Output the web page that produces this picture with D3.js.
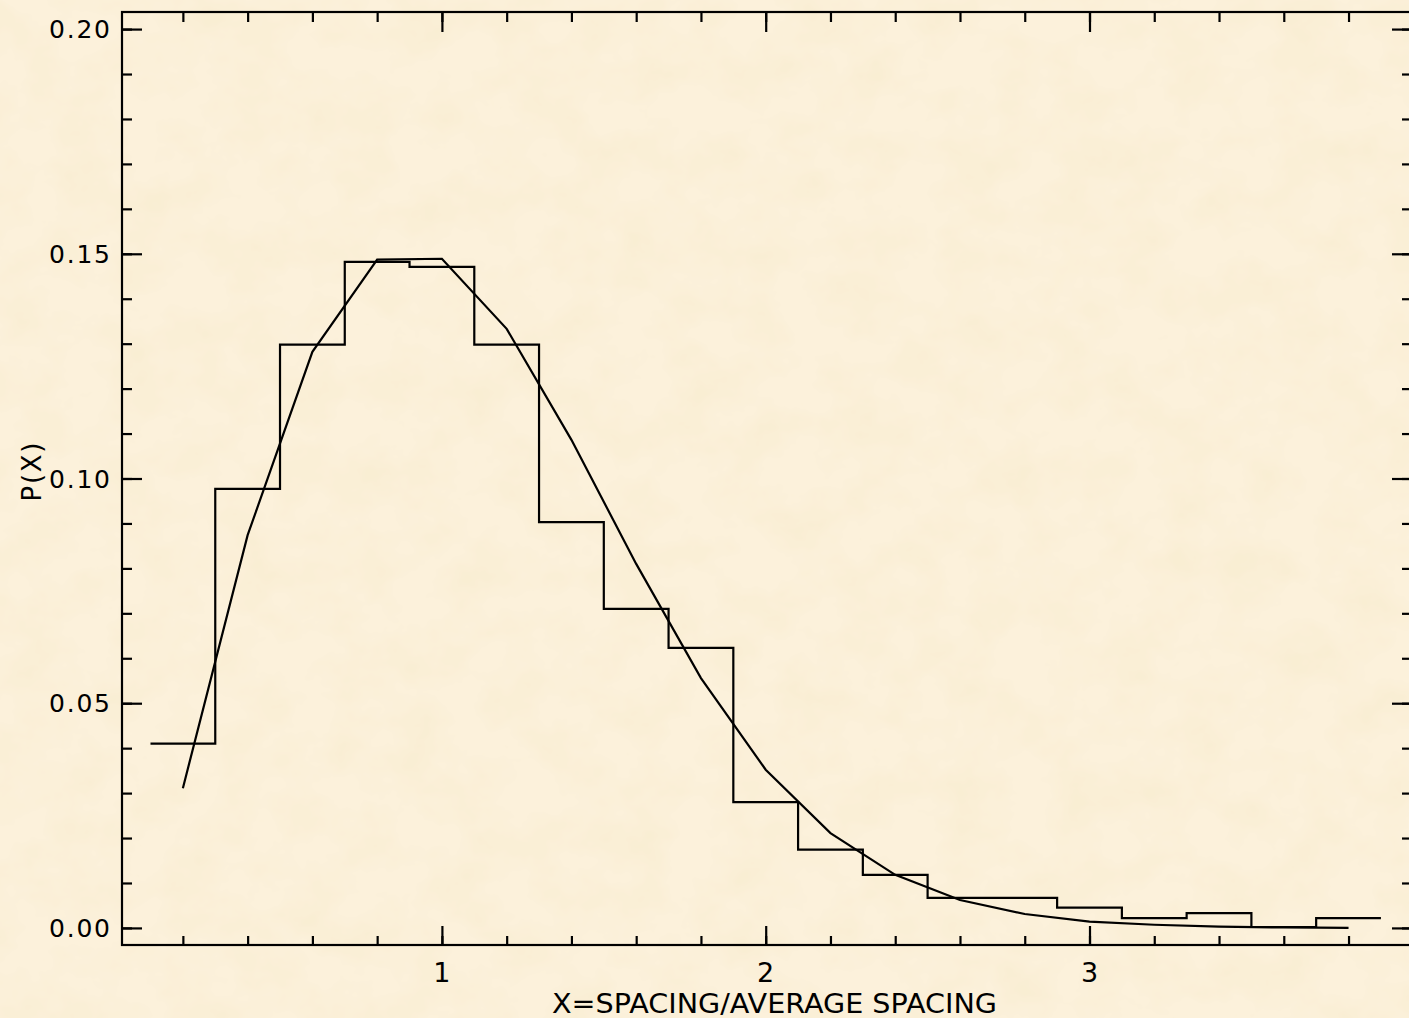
<!DOCTYPE html>
<html>
<head>
<meta charset="utf-8">
<script src="https://cdn.jsdelivr.net/npm/d3@7"></script>
<style>
  html, body { margin: 0; padding: 0; overflow: hidden; background: #fbefd6; }
  svg { display: block; }
  text { font-family: "DejaVu Sans", "Liberation Sans", sans-serif; font-weight: normal; fill: #000; }
</style>
</head>
<body>
<svg id="chart" width="1409" height="1018"></svg>
<script>
// bin centres of the spacing histogram (x = spacing / average spacing)
const binCenters = [0.2, 0.4, 0.6, 0.8, 1.0, 1.2, 1.4, 1.6, 1.8, 2.0, 2.2, 2.4, 2.6, 2.8, 3.0, 3.2, 3.4, 3.6, 3.8];
const binWidth = 0.2;

// measured histogram P(X)
const histValues = [0.0410, 0.0977, 0.1298, 0.1482, 0.1471, 0.1298, 0.0903, 0.0710, 0.0623, 0.0280,
                    0.0174, 0.0118, 0.0067, 0.0067, 0.0045, 0.0022, 0.0033, 0.0002, 0.0022];

// smooth theoretical curve at the same centres
const curveValues = [0.0311, 0.0874, 0.1282, 0.1487, 0.1489, 0.1333, 0.1086, 0.0810, 0.0556, 0.0352,
                     0.0211, 0.0118, 0.0062, 0.0031, 0.0014, 0.0007, 0.0003, 0.0001, 0.0000];

const yTickLabels = ['0.00', '0.05', '0.10', '0.15', '0.20'];
const xTickLabels = ['1', '2', '3', '4'];

const xTitle = 'X=SPACING/AVERAGE SPACING';
const yTitle = 'P(X)';

const W = 1409, H = 1018;
const box = { left: 122, right: 1412, top: 12, bottom: 945 };

const svg = d3.select('#chart');

// parchment background
const defs = svg.append('defs');
const f = defs.append('filter').attr('id', 'paper').attr('x', 0).attr('y', 0).attr('width', 1).attr('height', 1);
f.append('feTurbulence').attr('type', 'fractalNoise').attr('baseFrequency', '0.018 0.022')
  .attr('numOctaves', 4).attr('seed', 7).attr('result', 'noise');
f.append('feColorMatrix').attr('in', 'noise').attr('type', 'matrix')
  .attr('values', '0 0 0 0 0.93  0 0 0 0 0.83  0 0 0 0 0.60  0 0 0 -2.2 1.35').attr('result', 'tint');
f.append('feComposite').attr('in', 'tint').attr('in2', 'SourceGraphic').attr('operator', 'over');

svg.append('rect').attr('width', W).attr('height', H).attr('fill', '#fcf1db');
svg.append('rect').attr('width', W).attr('height', H).attr('fill', '#fcf1db')
  .attr('filter', 'url(#paper)').attr('opacity', 0.45);

const x = d3.scaleLinear().domain([0.012, 3.996]).range([box.left, box.right]);
const y = d3.scaleLinear().domain([-0.0038, 0.2038]).range([box.bottom, box.top]);

const xMinor = x.ticks(20), xMajor = x.ticks(4);
const yMinor = y.ticks(20), yMajor = y.ticks(4);

function tickGroup(axis, transform) {
  const g = svg.append('g').attr('transform', transform).call(axis);
  g.select('.domain').remove();
  g.selectAll('line').attr('stroke', '#000').attr('stroke-width', 2.2);
  g.selectAll('text').remove();
  return g;
}

// ticks point inward on all four sides
tickGroup(d3.axisBottom(x).tickValues(xMinor).tickSize(-9), `translate(0,${box.bottom})`);
tickGroup(d3.axisBottom(x).tickValues(xMajor).tickSize(-19), `translate(0,${box.bottom})`);
tickGroup(d3.axisTop(x).tickValues(xMinor).tickSize(-10), `translate(0,${box.top})`);
tickGroup(d3.axisTop(x).tickValues(xMajor).tickSize(-20), `translate(0,${box.top})`);
tickGroup(d3.axisLeft(y).tickValues(yMinor).tickSize(-10), `translate(${box.left},0)`);
tickGroup(d3.axisLeft(y).tickValues(yMajor).tickSize(-20), `translate(${box.left},0)`);
tickGroup(d3.axisRight(y).tickValues(yMinor).tickSize(-10), `translate(${box.right},0)`);
tickGroup(d3.axisRight(y).tickValues(yMajor).tickSize(-20), `translate(${box.right},0)`);

svg.append('rect')
  .attr('x', box.left).attr('y', box.top)
  .attr('width', box.right - box.left).attr('height', box.bottom - box.top)
  .attr('fill', 'none').attr('stroke', '#000').attr('stroke-width', 2.2);

// tick labels
svg.append('g').selectAll('text').data(yMajor).join('text')
  .attr('x', 110).attr('y', d => y(d) + 9)
  .attr('text-anchor', 'end')
  .attr('font-size', 25)
  .attr('textLength', 61).attr('lengthAdjust', 'spacing')
  .text((d, i) => yTickLabels[i]);

svg.append('g').selectAll('text').data(xMajor).join('text')
  .attr('x', d => x(d)).attr('y', 982)
  .attr('text-anchor', 'middle')
  .attr('font-size', 27)
  .text((d, i) => xTickLabels[i]);

svg.append('text')
  .attr('x', 774.5).attr('y', 1013)
  .attr('text-anchor', 'middle')
  .attr('font-size', 27)
  .attr('textLength', 445).attr('lengthAdjust', 'spacingAndGlyphs')
  .text(xTitle);

svg.append('text')
  .attr('transform', 'translate(41,472) rotate(-90)')
  .attr('text-anchor', 'middle')
  .attr('font-size', 26)
  .attr('textLength', 59).attr('lengthAdjust', 'spacing')
  .text(yTitle);

// histogram drawn in IDL psym=10 style: flat across each bin, half-bin at both ends
const half = binWidth / 2;
const histPts = binCenters.map((c, i) => [c, histValues[i]]);
histPts.unshift([binCenters[0] - half, histValues[0]]);
histPts.push([binCenters[binCenters.length - 1] + half, histValues[histValues.length - 1]]);

svg.append('path')
  .datum(histPts)
  .attr('d', d3.line().x(d => x(d[0])).y(d => y(d[1])).curve(d3.curveStep))
  .attr('fill', 'none').attr('stroke', '#000').attr('stroke-width', 2.2);

svg.append('path')
  .datum(binCenters.map((c, i) => [c, curveValues[i]]))
  .attr('d', d3.line().x(d => x(d[0])).y(d => y(d[1])))
  .attr('fill', 'none').attr('stroke', '#000').attr('stroke-width', 2.2);
</script>
</body>
</html>
